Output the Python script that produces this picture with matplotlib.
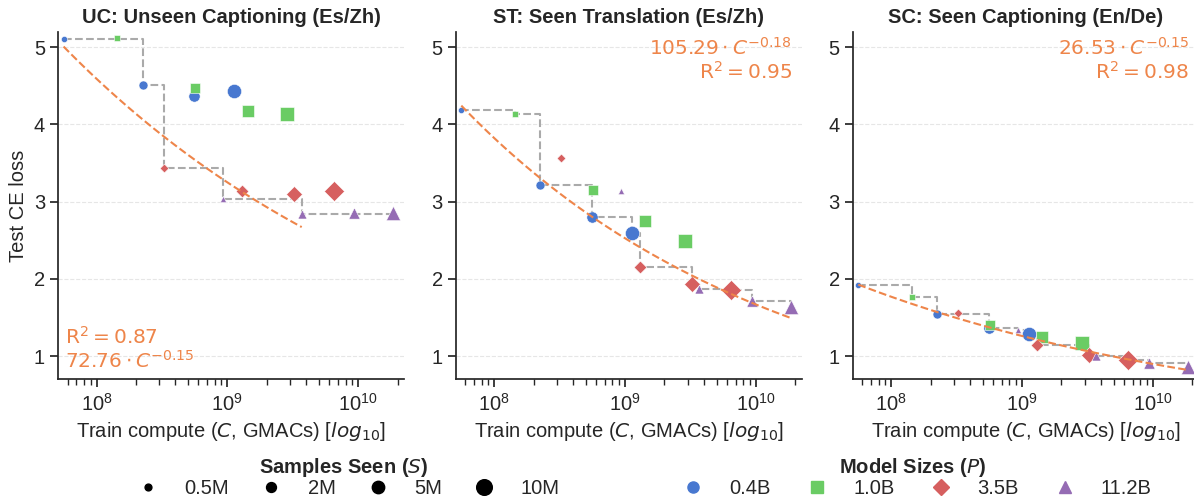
import numpy as np
import matplotlib
matplotlib.use("Agg")
import matplotlib.pyplot as plt
from matplotlib.lines import Line2D
import seaborn as sns

# --- data ---
models = ["0.4B", "1.0B", "3.5B", "11.2B"]
samples = ["0.5M", "2M", "5M", "10M"]

# train compute (GMACs), rows = model, cols = samples seen
compute = [
    [5.6e7, 2.25e8, 5.6e8, 1.12e9],
    [1.43e8, 5.7e8, 1.43e9, 2.86e9],
    [3.25e8, 1.3e9, 3.25e9, 6.5e9],
    [9.3e8, 3.7e9, 9.3e9, 1.86e10],
]

loss_uc = [
    [5.10, 4.51, 4.37, 4.43],
    [5.12, 4.47, 4.17, 4.14],
    [3.43, 3.14, 3.10, 3.14],
    [3.03, 2.84, 2.85, 2.85],
]
loss_st = [
    [4.19, 3.21, 2.80, 2.59],
    [4.13, 3.15, 2.75, 2.49],
    [3.56, 2.15, 1.94, 1.86],
    [3.14, 1.87, 1.71, 1.64],
]
loss_sc = [
    [1.92, 1.54, 1.37, 1.29],
    [1.76, 1.40, 1.25, 1.17],
    [1.56, 1.14, 1.02, 0.95],
    [1.34, 1.00, 0.91, 0.86],
]

titles = ["UC: Unseen Captioning (Es/Zh)", "ST: Seen Translation (Es/Zh)",
          "SC: Seen Captioning (En/De)"]
fit_a = [72.76, 105.29, 26.53]
fit_b = [-0.15, -0.18, -0.147]
fit_r2 = [0.87, 0.95, 0.98]

# --- style ---
sns.set_theme(style="ticks", palette="muted")
plt.rcParams["font.family"] = ["Liberation Sans", "DejaVu Sans"]
plt.rcParams["mathtext.fontset"] = "dejavusans"
FS = 14.5
pal = sns.color_palette("muted")
model_colors = [pal[0], pal[2], pal[3], pal[4]]
fit_color = pal[1]
model_markers = ["o", "s", "D", "^"]
sample_sizes = [20, 42, 66, 105]

fig = plt.figure(figsize=(11.94, 4.98), dpi=100)
lefts = [0.0488, 0.3819, 0.7144]
axes = [fig.add_axes([l, 0.2383, 0.2898, 0.698]) for l in lefts]

for k, (ax, losses) in enumerate(zip(axes, [loss_uc, loss_st, loss_sc])):
    C = np.array(compute)
    L = np.array(losses)

    # pareto frontier (running minimum over compute)
    order = np.argsort(C.ravel())
    xs = C.ravel()[order]
    ys = L.ravel()[order]
    front = np.minimum.accumulate(ys)
    ax.plot(xs, front, drawstyle="steps-post", color="#aaaaaa", ls="--",
            lw=1.5, zorder=1)

    # points
    for i in range(len(models)):
        for j in range(len(samples)):
            ax.scatter(C[i, j], L[i, j], s=sample_sizes[j], marker=model_markers[i],
                       color=model_colors[i], edgecolor="white", linewidth=0.4,
                       zorder=2)

    # power-law fit over the improving frontier points
    improving = np.r_[True, ys[1:] < front[:-1]]
    xf = np.geomspace(xs[improving].min(), xs[improving].max(), 100)
    ax.plot(xf, fit_a[k] * xf ** fit_b[k], color=fit_color, ls="--", lw=1.5,
            zorder=3)

    eq = rf"${fit_a[k]:.2f}\cdot C^{{{fit_b[k]:.2f}}}$"
    r2 = rf"$\mathrm{{R}}^2 = {fit_r2[k]:.2f}$"
    if k == 0:
        ax.text(0.02, 0.022, r2 + "\n" + eq, transform=ax.transAxes, ha="left",
                va="bottom", color=fit_color, fontsize=FS, linespacing=1.1)
    else:
        ax.text(0.971, 0.985, eq + "\n" + r2, transform=ax.transAxes, ha="right",
                va="top", color=fit_color, fontsize=FS, linespacing=1.1)

    ax.set_xscale("log")
    ax.set_xlim(5.1e7, 2.25e10)
    ax.set_ylim(0.7, 5.2)
    ax.set_yticks([1, 2, 3, 4, 5])
    ax.grid(axis="y", ls="--", color="#e6e6e6", lw=0.8)
    ax.set_title(titles[k], fontsize=FS, fontweight="bold", color="#262626")
    ax.set_xlabel(r"Train compute ($C$, GMACs) [$log_{10}$]", fontsize=FS)
    ax.tick_params(axis="both", labelsize=FS)
    sns.despine(ax=ax)

axes[0].set_ylabel("Test CE loss", fontsize=FS)

# legends
size_handles = [Line2D([], [], ls="", marker="o", color="black",
                       markersize=1.1 * np.sqrt(s)) for s in sample_sizes]
fig.legend(size_handles, samples, ncol=4, frameon=False,
           loc="center", bbox_to_anchor=(0.288, 0.043), fontsize=FS,
           title=r"Samples Seen ($S$)",
           title_fontproperties={"weight": "bold", "size": FS},
           handletextpad=0.8, columnspacing=1.1, labelspacing=0.0,
           borderaxespad=0.2)
model_handles = [Line2D([], [], ls="", marker=m, color=c, markersize=8)
                 for m, c in zip(model_markers, model_colors)]
fig.legend(model_handles, models, ncol=4, frameon=False,
           loc="center", bbox_to_anchor=(0.764, 0.043), fontsize=FS,
           title=r"Model Sizes ($P$)",
           title_fontproperties={"weight": "bold", "size": FS},
           handletextpad=0.8, columnspacing=1.3, labelspacing=0.0,
           borderaxespad=0.2)

fig.savefig("out.png", dpi=100)
